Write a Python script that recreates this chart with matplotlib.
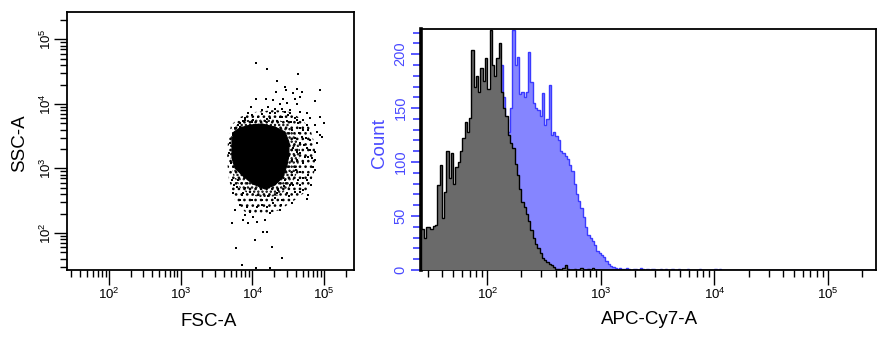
import numpy as np
import matplotlib
matplotlib.use('Agg')
import matplotlib.pyplot as plt

plt.rcParams['font.family'] = ['Liberation Sans', 'DejaVu Sans']

# ---------------- data ----------------
axis_log_min, axis_log_max = 1.42, 5.42
decades = [2, 3, 4, 5]
decade_labels = [r'$\mathregular{10^{2}}$', r'$\mathregular{10^{3}}$',
                 r'$\mathregular{10^{4}}$', r'$\mathregular{10^{5}}$']

# dense core of the FSC/SSC dot plot (log10 FSC, log10 SSC)
core_lfsc = [3.715, 3.743, 3.827, 3.967, 4.134, 4.315, 4.455, 4.510, 4.510,
             4.483, 4.427, 4.315, 4.176, 4.008, 3.869, 3.757, 3.715]
core_lssc = [3.442, 3.566, 3.628, 3.674, 3.690, 3.643, 3.566, 3.411, 3.209,
             3.054, 2.868, 2.744, 2.682, 2.760, 2.884, 3.008, 3.163]
# closely packed events around the core
inner_lfsc = [3.688, 3.730, 3.855, 4.078, 4.315, 4.497, 4.608, 4.664, 4.636,
              4.552, 4.385, 4.176, 3.967, 3.827, 3.730, 3.688]
inner_lssc = [3.442, 3.628, 3.736, 3.783, 3.767, 3.705, 3.519, 3.287, 2.977,
              2.744, 2.589, 2.543, 2.589, 2.698, 2.899, 3.163]
# looser events further out
outer_lfsc = [3.660, 3.702, 3.827, 4.036, 4.315, 4.524, 4.664, 4.803, 4.873,
              4.873, 4.775, 4.594, 4.385, 4.134, 3.897, 3.757, 3.674, 3.646]
outer_lssc = [3.442, 3.674, 3.798, 3.876, 3.907, 3.876, 3.783, 3.628, 3.364,
              2.977, 2.667, 2.512, 2.357, 2.279, 2.326, 2.512, 2.822, 3.132]

# individual events outside the dense core (log10 FSC, log10 SSC)
dots_lfsc = [4.05, 4.21, 4.63, 4.35, 4.94, 4.46, 4.62, 4.33, 4.47, 4.57, 4.69, 4.05,
             4.19, 4.29, 4.43, 4.60, 4.67, 4.87, 4.39, 4.48, 4.62, 3.98, 4.22, 4.32,
             4.42, 4.53, 4.67, 4.76, 4.94, 3.87, 3.99, 4.13, 4.25, 4.39, 4.50, 4.60,
             4.71, 4.80, 5.00, 3.83, 4.01, 4.20, 4.34, 4.48, 4.64, 4.76, 4.87, 4.67,
             4.78, 4.90, 4.94, 4.69, 4.80, 4.90, 4.97, 4.67, 4.76, 4.87, 4.67, 4.78,
             4.87, 4.62, 4.71, 4.85, 4.60, 4.67, 4.78, 4.87, 4.76, 4.64, 4.71, 4.78,
             4.76, 4.67, 4.53, 4.60, 4.48, 4.55, 4.41, 4.34, 4.29, 4.39, 4.25, 4.20,
             4.13, 4.06, 3.99, 3.92, 4.01, 4.18, 3.94, 3.87, 3.76, 3.71, 3.83, 3.73,
             3.78, 3.71, 3.87, 4.15, 4.20, 4.03, 4.27, 3.77, 4.42, 3.86, 4.05, 4.25,
             3.69, 3.68, 3.70, 3.73, 3.76, 3.80, 3.90,
             3.97, 4.08, 3.90, 4.22, 4.36, 4.44, 4.13, 3.97, 3.83, 4.32, 4.06, 3.90,
             4.46, 4.55, 4.57, 4.51, 4.40, 3.80, 3.86, 3.74,
             4.55, 4.59, 4.57, 4.62, 4.55, 4.61, 4.72, 4.71, 4.75, 4.80, 4.83, 4.73,
             4.65, 4.62, 4.54, 4.71, 4.82, 4.66,
             3.90, 4.08, 4.25, 4.41, 4.52, 3.94, 4.13, 4.32, 4.46, 3.83, 4.18, 3.99]
dots_lssc = [4.63, 4.55, 4.47, 4.36, 4.22, 4.27, 4.24, 4.18, 4.21, 4.17, 4.18, 4.08,
             4.07, 4.06, 4.07, 4.07, 4.11, 4.05, 4.00, 4.01, 4.00, 3.95, 3.96, 3.93,
             3.93, 3.91, 3.88, 3.86, 3.80, 3.73, 3.83, 3.84, 3.86, 3.80, 3.83, 3.79,
             3.75, 3.78, 3.71, 3.65, 3.75, 3.76, 3.73, 3.73, 3.70, 3.67, 3.67, 3.62,
             3.60, 3.57, 3.52, 3.49, 3.44, 3.39, 3.49, 3.39, 3.31, 3.26, 3.24, 3.18,
             3.13, 3.13, 3.08, 3.03, 3.03, 2.95, 2.90, 2.98, 2.82, 2.82, 2.67, 2.59,
             2.52, 2.64, 2.74, 2.64, 2.62, 2.46, 2.51, 2.62, 2.46, 2.36, 2.31, 2.41,
             2.51, 2.41, 2.51, 2.41, 2.25, 2.20, 2.15, 2.20, 2.36, 2.15, 2.51, 2.62,
             2.72, 2.82, 2.62, 2.02, 2.02, 1.89, 1.79, 1.76, 1.61, 1.50, 1.45, 1.45,
             3.39, 3.24, 3.08, 3.52, 3.62, 3.67, 3.75,
             2.64, 2.59, 2.70, 2.57, 2.67, 2.73, 2.43, 2.33, 2.43, 2.54, 2.17, 2.28,
             2.82, 2.90, 2.74, 2.57, 2.43, 2.82, 2.59, 2.74,
             3.60, 3.47, 3.32, 3.26, 3.13, 2.98, 3.36, 3.60, 3.47, 3.29, 3.16, 3.18,
             3.55, 3.75, 3.72, 2.85, 2.74, 2.74,
             3.78, 3.80, 3.78, 3.80, 3.86, 3.86, 3.91, 3.86, 3.88, 3.71, 3.74, 3.72]

# APC-Cy7-A histograms: log10 bins starting at 1.42, width 0.02 decade
hist_bin_start = 1.42
hist_bin_width = 0.02
hist_n_bins = 200
gray_counts = [38, 30, 40, 40, 38, 41, 42, 79, 97, 48, 72, 110, 85, 108, 80, 95,
               100, 110, 122, 137, 128, 141, 204, 170, 180, 165, 187, 175, 196, 168,
               222, 190, 180, 196, 210, 165, 150, 143, 125, 118, 113, 98, 88, 75, 63,
               58, 52, 45, 37, 30, 24, 20, 16, 11, 9, 7, 6, 5, 3, 1, 1, 0, 2, 5, 1,
               0, 0, 1, 0, 0, 2, 0, 0, 1, 0, 2]
blue_first_bin = 26
blue_counts = [10, 25, 40, 60, 80, 100, 120, 140, 160, 190, 160, 140, 128, 150, 222,
               190, 197, 163, 165, 160, 165, 202, 174, 155, 150, 148, 143, 164, 134,
               140, 171, 125, 128, 124, 120, 110, 108, 106, 103, 97, 92, 80, 70, 64,
               57, 49, 40, 32, 30, 27, 23, 18, 16, 14, 12, 8, 6, 4, 3, 2,
               1, 2, 1, 1, 2, 1, 0, 1, 1, 0, 2, 1, 0, 1, 0, 1, 1, 0, 0, 1, 0, 1, 0,
               0, 1, 0, 0, 1, 0, 0, 0, 1, 0, 0, 0, 0, 1, 0, 0, 0, 0, 0, 0, 1, 0, 1]
count_major = [0, 50, 100, 150, 200]
count_minor = list(range(0, 221, 10))
count_max = 223

# ---------------- figure ----------------
W, H = 881, 337
fig = plt.figure(figsize=(W / 100, H / 100), dpi=100)
axL = fig.add_axes([67.4 / W, (H - 270.4) / H, 286.8 / W, 258 / H])
axR = fig.add_axes([421.4 / W, (H - 270) / H, 454.4 / W, 240.7 / H])

lo, hi = 10 ** axis_log_min, 10 ** axis_log_max
minor_log_ticks = [m * 10 ** d for d in range(1, 6) for m in range(2, 10)
                   if lo <= m * 10 ** d <= hi]
major_vals = [10 ** d for d in decades]

BLUE_TXT = '#4a4aff'

# ---- left dot plot ----
axL.set_xscale('log')
axL.set_yscale('log')
axL.set_xlim(lo, hi)
axL.set_ylim(lo, hi)
plt.rcParams['hatch.linewidth'] = 1.1
axL.fill(10 ** np.array(outer_lfsc), 10 ** np.array(outer_lssc), facecolor='none',
         edgecolor='black', hatch='...', lw=0, zorder=1)
axL.fill(10 ** np.array(inner_lfsc), 10 ** np.array(inner_lssc), facecolor='none',
         edgecolor='black', hatch='....', lw=0, zorder=1.5)
axL.fill(10 ** np.array(core_lfsc), 10 ** np.array(core_lssc), color='black', lw=0.8,
         ec='black', zorder=2)
axL.scatter(10 ** np.array(dots_lfsc), 10 ** np.array(dots_lssc), s=3.2, marker='s',
            color='black', linewidths=0, zorder=3)

for ax in (axL, axR):
    ax.set_xscale('log')
    ax.set_xlim(lo, hi)
    ax.set_xticks(major_vals, labels=decade_labels)
    ax.set_xticks(minor_log_ticks, minor=True)
    ax.xaxis.set_minor_formatter(matplotlib.ticker.NullFormatter())
    ax.tick_params(axis='x', which='major', direction='out', length=10.5, width=1.0,
                   labelsize=9.5, pad=1.5)
    ax.tick_params(axis='x', which='minor', direction='out', length=5, width=1.0)
    for s in ax.spines.values():
        s.set_linewidth(1.3)

axL.set_yticks(major_vals, labels=decade_labels)
axL.set_yticks(minor_log_ticks, minor=True)
axL.yaxis.set_minor_formatter(matplotlib.ticker.NullFormatter())
axL.tick_params(axis='y', which='major', direction='out', length=9.5, width=1.0,
                labelsize=9.5, pad=0.5)
axL.tick_params(axis='y', which='minor', direction='out', length=5, width=1.0)
for lbl in axL.get_yticklabels():
    lbl.set_rotation(90)
    lbl.set_va('center')

axL.set_xlabel('FSC-A', fontsize=13.5)
axL.xaxis.set_label_coords(0.494, -0.165)
axL.set_ylabel('SSC-A', fontsize=13.5)
axL.yaxis.set_label_coords(-0.137, 0.494)

# ---- right histogram ----
edges = 10 ** (hist_bin_start + hist_bin_width * np.arange(hist_n_bins + 1))
gray_full = np.zeros(hist_n_bins)
gray_full[:len(gray_counts)] = gray_counts
blue_full = np.zeros(hist_n_bins)
blue_full[blue_first_bin:blue_first_bin + len(blue_counts)] = blue_counts

axR.stairs(blue_full, edges, fill=True, color='#8585ff', zorder=1)
axR.stairs(blue_full, edges, color='#3a3aff', lw=1.0, zorder=2)
axR.stairs(gray_full, edges, fill=True, color='#6a6a6a', zorder=3)
axR.stairs(gray_full, edges, color='black', lw=1.0, zorder=4)
axR.set_ylim(0, count_max)

axR.set_yticks(count_major, labels=[str(v) for v in count_major])
axR.set_yticks(count_minor, minor=True)
axR.tick_params(axis='y', which='major', direction='out', length=7.5, width=1.3,
                labelsize=10.5, pad=2.5, color=BLUE_TXT, labelcolor=BLUE_TXT)
axR.tick_params(axis='y', which='minor', direction='out', length=5.5, width=1.3,
                color=BLUE_TXT)
for lbl in axR.get_yticklabels():
    lbl.set_rotation(90)
    lbl.set_va('center')
axR.spines['left'].set_linewidth(2.6)

axR.set_xlabel('APC-Cy7-A', fontsize=13.5)
axR.xaxis.set_label_coords(0.501, -0.17)
axR.set_ylabel('Count', fontsize=13.5, color=BLUE_TXT)
axR.yaxis.set_label_coords(-0.0735, 0.528)

fig.savefig('out.png', dpi=100)
